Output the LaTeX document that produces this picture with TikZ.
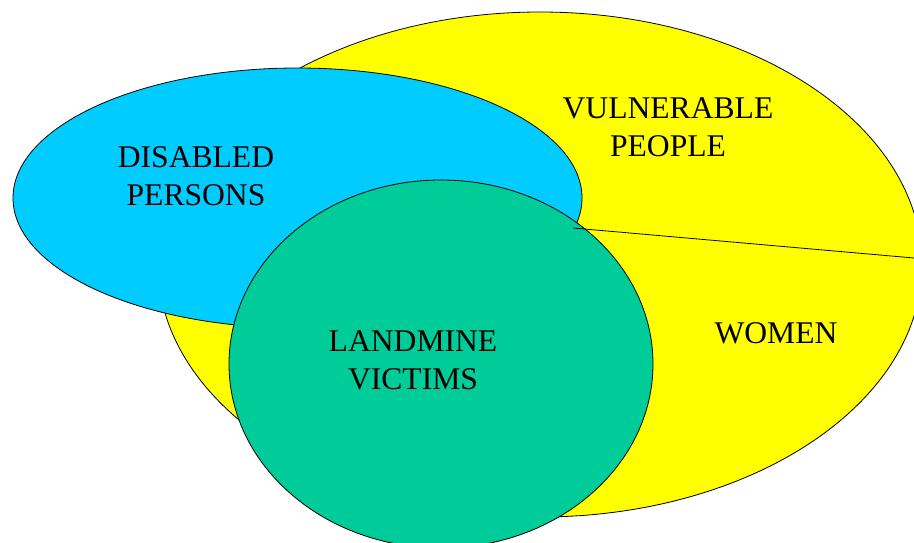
\documentclass[tikz,border=0pt]{standalone}
\usepackage{fontspec}
\setmainfont{Liberation Serif}
\definecolor{vyellow}{HTML}{FFFF00}
\definecolor{dblue}{HTML}{00CCFF}
\definecolor{lgreen}{HTML}{00CC99}
\begin{document}
\begin{tikzpicture}[x=1pt,y=-1pt,
  setshape/.style={draw=black,line width=0.8pt},
  lbl/.style={inner sep=0pt,align=center,font=\fontsize{31.6}{38}\selectfont}]
\useasboundingbox (0,0) rectangle (914,542);
\begin{scope}
\clip (0,0) rectangle (914,542);
\fill[vyellow] (540,264.5) ellipse [x radius=382, y radius=252.5];
\draw[setshape] (540,264.5) ellipse [x radius=382, y radius=252.5];
\filldraw[setshape,fill=dblue] (297.5,198) ellipse [x radius=284.5, y radius=130];
\filldraw[setshape,fill=lgreen] (441,364) ellipse [x radius=212, y radius=184];
\coordinate (ls) at (573,228);
\coordinate (le) at (914,258);
\draw[line width=0.8pt] (ls) -- (le);
\end{scope}
\node[lbl] (vp) at (668,127.5) {VULNERABLE\\PEOPLE};
\node[lbl] (dp) at (196,176) {DISABLED\\PERSONS};
\node[lbl] (lv) at (413,360) {LANDMINE\\VICTIMS};
\node[lbl,anchor=base] (wo) at (776,343) {WOMEN};
\end{tikzpicture}
\end{document}
